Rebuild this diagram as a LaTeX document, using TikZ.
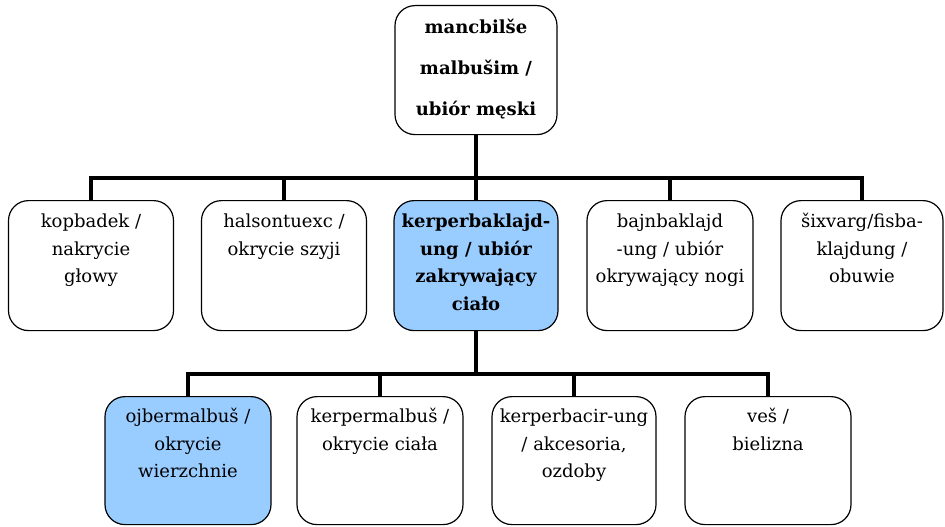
\documentclass[tikz,border=0pt]{standalone}
\usepackage{fontspec}
\setmainfont{DejaVu Serif}
\definecolor{boxblue}{RGB}{153,204,255}
\newcommand{\rowfont}{\fontsize{18}{27.5}\selectfont}
\newcommand{\topfont}{\fontsize{18}{41}\selectfont\bfseries}
\newcommand{\cbox}[3]{\parbox[t][#1][t]{#2}{\centering #3}}
\tikzset{
  cell/.style={draw=black, line width=1.2pt, rounded corners=20pt, inner sep=0pt, anchor=north, fill=white},
  hl/.style={fill=boxblue},
  conn/.style={line width=4pt, line join=miter, draw=black}
}
\begin{document}
\begin{tikzpicture}[x=1pt,y=-1pt]
\useasboundingbox (0,0) rectangle (945,527);
% top
\node[cell] (top) at (476,5) {\cbox{129pt}{162pt}{\topfont\rule{0pt}{28pt}mancbilše\\malbušim /\\ubiór męski}};
% row 2
\node[cell] (b1) at (91,200) {\cbox{130pt}{165pt}{\rowfont\rule{0pt}{27pt}kopbadek /\\nakrycie\\głowy}};
\node[cell] (b2) at (284,200) {\cbox{130pt}{165pt}{\rowfont\rule{0pt}{27pt}halsontuexc /\\okrycie szyji}};
\node[cell,hl] (b3) at (476,200) {\cbox{130pt}{164pt}{\rowfont\bfseries\rule{0pt}{27pt}kerperbaklajd-\\ung / ubiór\\zakrywający\\ciało}};
\node[cell] (b4) at (670,200) {\cbox{130pt}{166pt}{\rowfont\rule{0pt}{27pt}bajnbaklajd\\-ung / ubiór\\okrywający nogi}};
\node[cell] (b5) at (862,200) {\cbox{130pt}{162pt}{\rowfont\rule{0pt}{27pt}šixvarg/fisba-\\klajdung /\\obuwie}};
% row 3
\node[cell,hl] (c1) at (188,396) {\cbox{128pt}{166pt}{\rowfont\rule{0pt}{26pt}ojbermalbuš /\\okrycie\\wierzchnie}};
\node[cell] (c2) at (380,396) {\cbox{128pt}{166pt}{\rowfont\rule{0pt}{26pt}kerpermalbuš /\\okrycie ciała}};
\node[cell] (c3) at (574,396) {\cbox{128pt}{164pt}{\rowfont\rule{0pt}{26pt}kerperbacir-ung\\/ akcesoria,\\ozdoby}};
\node[cell] (c4) at (768,396) {\cbox{128pt}{166pt}{\rowfont\rule{0pt}{26pt}veš /\\bielizna}};
% junctions
\coordinate (j1) at (476,178);
\coordinate (j2) at (476,374);
% connectors level 1
\draw[conn] (top.south) -- (j1);
\draw[conn] (b1.north) |- (j1) -| (b5.north);
\draw[conn] (b2.north) -- (b2.north |- j1);
\draw[conn] (b3.north) -- (j1);
\draw[conn] (b4.north) -- (b4.north |- j1);
% connectors level 2
\draw[conn] (b3.south) -- (j2);
\draw[conn] (c1.north) |- (j2) -| (c4.north);
\draw[conn] (c2.north) -- (c2.north |- j2);
\draw[conn] (c3.north) -- (c3.north |- j2);
\end{tikzpicture}
\end{document}
